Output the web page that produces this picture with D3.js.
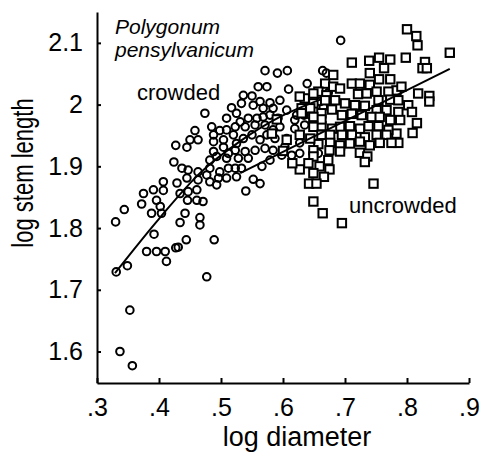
<!DOCTYPE html>
<html>
<head>
<meta charset="utf-8">
<script src="https://cdn.jsdelivr.net/npm/d3@7"></script>
<style>
  body { margin: 0; background: #fff; }
  svg text { font-family: "Liberation Sans", Arial, Helvetica, sans-serif; fill: #000; }
</style>
</head>
<body>
<div class="chart"></div>
<script>
// tick values
var xTicks = [0.3, 0.4, 0.5, 0.6, 0.7, 0.8, 0.9];
var yTicks = [1.6, 1.7, 1.8, 1.9, 2.0, 2.1];

// crowded plants (circles): [log diameter, log stem length]
var crowded = [
  [0.571, 2.055], [0.591, 2.051], [0.607, 2.055], [0.560, 2.029], [0.574, 2.029],
  [0.609, 2.025], [0.639, 2.034], [0.536, 2.015], [0.550, 2.014], [0.563, 2.005],
  [0.579, 2.003], [0.595, 2.007], [0.533, 2.002], [0.517, 1.995], [0.552, 1.999],
  [0.568, 1.994], [0.584, 1.994], [0.606, 1.991], [0.622, 1.983], [0.634, 1.983],
  [0.644, 1.983], [0.474, 1.986], [0.509, 1.978], [0.525, 1.986], [0.531, 1.972],
  [0.544, 1.978], [0.558, 1.978], [0.568, 1.980], [0.579, 1.983], [0.592, 1.978],
  [0.619, 1.975], [0.635, 1.967], [0.619, 1.961], [0.458, 1.958], [0.485, 1.964],
  [0.498, 1.958], [0.509, 1.959], [0.523, 1.964], [0.539, 1.964], [0.555, 1.967],
  [0.571, 1.967], [0.584, 1.959], [0.595, 1.964], [0.450, 1.943], [0.463, 1.943],
  [0.488, 1.951], [0.488, 1.940], [0.504, 1.943], [0.520, 1.951], [0.525, 1.937],
  [0.536, 1.945], [0.550, 1.951], [0.563, 1.943], [0.574, 1.951], [0.587, 1.945],
  [0.427, 1.934], [0.445, 1.931], [0.488, 1.924], [0.504, 1.931], [0.512, 1.921],
  [0.523, 1.926], [0.539, 1.924], [0.555, 1.926], [0.571, 1.929], [0.584, 1.926],
  [0.603, 1.932], [0.627, 1.938], [0.614, 1.918], [0.627, 1.921], [0.598, 1.918],
  [0.579, 1.910], [0.566, 1.900], [0.544, 1.913], [0.528, 1.913], [0.509, 1.913],
  [0.493, 1.916], [0.482, 1.910], [0.424, 1.907], [0.437, 1.897], [0.447, 1.894],
  [0.463, 1.891], [0.482, 1.897], [0.498, 1.891], [0.512, 1.897], [0.523, 1.897],
  [0.533, 1.897], [0.525, 1.883], [0.552, 1.879], [0.563, 1.872], [0.540, 1.860],
  [0.509, 1.881], [0.496, 1.881], [0.482, 1.875], [0.493, 1.870], [0.477, 1.886],
  [0.463, 1.878], [0.445, 1.881], [0.429, 1.873], [0.407, 1.875], [0.407, 1.861],
  [0.391, 1.862], [0.375, 1.856], [0.372, 1.839], [0.396, 1.845], [0.402, 1.835],
  [0.388, 1.824], [0.404, 1.824], [0.434, 1.856], [0.447, 1.859], [0.461, 1.862],
  [0.446, 1.845], [0.461, 1.845], [0.471, 1.843], [0.442, 1.824], [0.434, 1.809],
  [0.466, 1.817], [0.466, 1.805], [0.344, 1.830], [0.330, 1.810], [0.392, 1.790],
  [0.444, 1.781], [0.431, 1.769], [0.427, 1.768], [0.489, 1.781], [0.380, 1.762],
  [0.396, 1.762], [0.410, 1.762], [0.331, 1.729], [0.349, 1.739], [0.353, 1.667],
  [0.337, 1.600], [0.357, 1.577], [0.412, 1.746], [0.477, 1.721], [0.693, 2.104],
  [0.664, 2.055], [0.670, 2.051], [0.660, 2.005], [0.665, 1.996], [0.673, 2.019],
  [0.649, 1.972], [0.606, 1.945], [0.657, 1.921]
];

// uncrowded plants (squares)
var uncrowded = [
  [0.800, 2.122], [0.815, 2.111], [0.817, 2.096], [0.869, 2.084], [0.711, 2.068],
  [0.739, 2.071], [0.755, 2.076], [0.773, 2.073], [0.798, 2.076], [0.829, 2.069],
  [0.825, 2.059], [0.832, 2.059], [0.740, 2.051], [0.763, 2.059], [0.681, 2.048],
  [0.711, 2.034], [0.724, 2.034], [0.740, 2.032], [0.755, 2.041], [0.773, 2.041],
  [0.783, 2.023], [0.770, 2.021], [0.791, 2.029], [0.818, 2.018], [0.836, 2.014],
  [0.836, 2.005], [0.668, 2.034], [0.681, 2.029], [0.692, 2.026], [0.657, 2.021],
  [0.670, 2.015], [0.721, 2.017], [0.735, 2.018], [0.751, 2.021], [0.754, 2.007],
  [0.773, 2.008], [0.786, 2.007], [0.802, 1.999], [0.808, 1.988], [0.786, 1.988],
  [0.767, 1.991], [0.751, 1.991], [0.732, 1.998], [0.716, 1.999], [0.700, 2.002],
  [0.684, 2.007], [0.668, 2.007], [0.649, 2.002], [0.635, 2.010], [0.627, 2.013],
  [0.630, 1.994], [0.644, 1.994], [0.662, 1.986], [0.679, 1.992], [0.695, 1.983],
  [0.711, 1.985], [0.727, 1.983], [0.743, 1.980], [0.756, 1.980], [0.773, 1.975],
  [0.789, 1.975], [0.816, 1.970], [0.809, 1.954], [0.783, 1.953], [0.770, 1.959],
  [0.754, 1.965], [0.738, 1.965], [0.724, 1.961], [0.708, 1.965], [0.692, 1.964],
  [0.679, 1.961], [0.662, 1.965], [0.662, 1.976], [0.649, 1.964], [0.662, 1.951],
  [0.676, 1.951], [0.695, 1.951], [0.711, 1.951], [0.732, 1.947], [0.751, 1.951],
  [0.767, 1.951], [0.786, 1.938], [0.775, 1.938], [0.756, 1.938], [0.740, 1.934],
  [0.724, 1.940], [0.708, 1.937], [0.692, 1.934], [0.676, 1.938], [0.657, 1.936],
  [0.644, 1.945], [0.649, 1.926], [0.675, 1.926], [0.692, 1.924], [0.724, 1.922],
  [0.736, 1.916], [0.732, 1.907], [0.606, 1.943], [0.627, 1.951], [0.649, 1.916],
  [0.641, 1.905], [0.659, 1.900], [0.673, 1.910], [0.675, 1.895], [0.666, 1.883],
  [0.649, 1.889], [0.627, 1.895], [0.642, 1.872], [0.654, 1.872], [0.746, 1.872],
  [0.649, 1.843], [0.664, 1.824], [0.695, 1.808], [0.649, 2.018], [0.630, 1.986],
  [0.649, 1.980], [0.582, 1.953], [0.590, 1.976], [0.615, 1.905], [0.600, 1.925]
];

// fitted curves
var crowdedFitX = [0.329, 0.40, 0.466, 0.53, 0.595, 0.66];
var crowdedFitY = [1.727, 1.815, 1.889, 1.940, 1.980, 2.008];
var uncrowdedFitX = [0.531, 0.869];
var uncrowdedFitY = [1.889, 2.058];

var width = 480, height = 454;

var svg = d3.select(".chart")
    .append("svg")
    .attr("width", width)
    .attr("height", height)

var x = d3.scaleLinear().domain([0.3, 0.9]).range([97, 469]);
var y = d3.scaleLinear().domain([1.549, 2.15]).range([383, 12]);

var fmtX = function (d) { return d3.format(".1f")(d).replace(/^0/, ""); };
var fmtY = d3.format(".2~f");

var xAxis = svg.append("g")
    .attr("transform", "translate(0,383)")
    .call(d3.axisBottom(x).tickValues(xTicks).tickFormat(fmtX)
        .tickSizeInner(-5).tickSizeOuter(0).tickPadding(15));

var yAxis = svg.append("g")
    .attr("transform", "translate(97,0)")
    .call(d3.axisLeft(y).tickValues(yTicks).tickFormat(fmtY)
        .tickSizeInner(-4).tickSizeOuter(0).tickPadding(14));

[xAxis, yAxis].forEach(function (g) {
    g.attr("font-family", null).attr("font-size", null);
    g.select(".domain").attr("stroke", "#000").attr("stroke-width", 2);
    g.selectAll(".tick line").attr("stroke", "#000").attr("stroke-width", 2);
    g.selectAll(".tick text").style("font-size", "25px");
});

// points
svg.append("g").selectAll("circle")
    .data(crowded)
    .enter()
    .append("circle")
    .attr("cx", function (d) { return x(d[0]); })
    .attr("cy", function (d) { return y(d[1]); })
    .attr("r", 3.8)
    .attr("fill", "none")
    .attr("stroke", "#000")
    .attr("stroke-width", 2)

svg.append("g").selectAll("rect")
    .data(uncrowded)
    .enter()
    .append("rect")
    .attr("x", function (d) { return x(d[0]) - 4.2; })
    .attr("y", function (d) { return y(d[1]) - 4.2; })
    .attr("width", 8.4)
    .attr("height", 8.4)
    .attr("fill", "#fff")
    .attr("stroke", "#000")
    .attr("stroke-width", 2)

// fit lines
var line = d3.line()
    .x(function (d) { return x(d[0]); })
    .y(function (d) { return y(d[1]); });

svg.append("path")
    .attr("d", line.curve(d3.curveMonotoneX)(d3.zip(crowdedFitX, crowdedFitY)))
    .attr("fill", "none")
    .attr("stroke", "#000")
    .attr("stroke-width", 2)

svg.append("path")
    .attr("d", line.curve(d3.curveLinear)(d3.zip(uncrowdedFitX, uncrowdedFitY)))
    .attr("fill", "none")
    .attr("stroke", "#000")
    .attr("stroke-width", 2)

// labels
svg.append("text")
    .attr("x", 297)
    .attr("y", 446)
    .attr("text-anchor", "middle")
    .style("font-size", "27px")
    .text("log diameter")

svg.append("text")
    .attr("transform", "translate(33,173) rotate(-90) scale(0.76,1)")
    .attr("text-anchor", "middle")
    .style("font-size", "29px")
    .text("log stem length")

svg.append("text")
    .attr("x", 115)
    .attr("y", 34)
    .style("font-size", "21px")
    .style("font-style", "italic")
    .text("Polygonum")

svg.append("text")
    .attr("x", 115)
    .attr("y", 57)
    .style("font-size", "21px")
    .style("font-style", "italic")
    .text("pensylvanicum")

svg.append("text")
    .attr("x", 137)
    .attr("y", 100)
    .style("font-size", "22px")
    .text("crowded")

svg.append("text")
    .attr("x", 349)
    .attr("y", 213)
    .style("font-size", "22px")
    .text("uncrowded")
</script>
</body>
</html>
